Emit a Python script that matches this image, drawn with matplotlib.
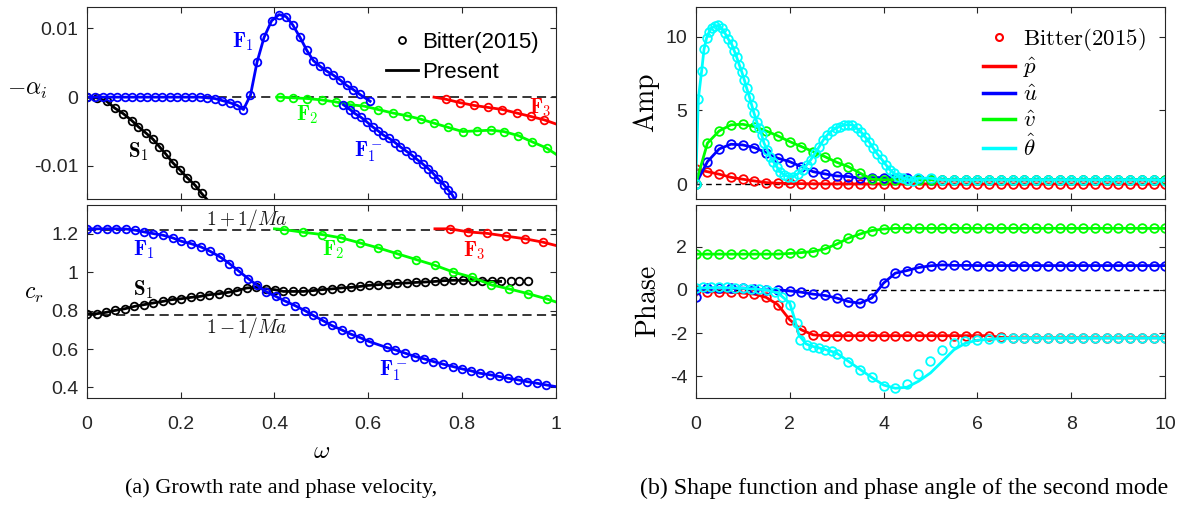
import numpy as np
import matplotlib
matplotlib.use("Agg")
import matplotlib.pyplot as plt
from matplotlib.lines import Line2D

plt.rcParams['font.family'] = 'Liberation Sans'
plt.rcParams['mathtext.fontset'] = 'cm'
plt.rcParams['axes.unicode_minus'] = False

MA = 4.5  # Mach number, dashed lines 1 +/- 1/Ma

# ---------------- (a) top: -alpha_i vs omega ----------------
f1_w = [0.0, 0.0177, 0.0341, 0.0497, 0.0653, 0.0817, 0.0973, 0.1136, 0.1292, 0.1455,
        0.161, 0.1775, 0.193, 0.2095, 0.225, 0.2414, 0.257, 0.273, 0.289, 0.305,
        0.321, 0.334, 0.349, 0.363, 0.378, 0.394, 0.410, 0.425, 0.439, 0.4545,
        0.469, 0.483, 0.497, 0.511, 0.5255, 0.540, 0.554, 0.568, 0.582, 0.604]
f1_ai = [0.0, 0.0, 0.0, 0.0, 0.0, 0.0, 0.0, 0.0, 0.0, 0.0,
         0.0, 0.0, 0.0, 0.0, 0.0, 0.0, -0.0001, -0.0002, -0.0005, -0.0008,
         -0.0012, -0.0018, 0.0003, 0.0051, 0.0087, 0.0111, 0.0120, 0.0117, 0.0105, 0.0087,
         0.0068, 0.0053, 0.0045, 0.0038, 0.0032, 0.0025, 0.0017, 0.0011, 0.0004, -0.0006]

f1m_w = [0.547, 0.561, 0.572, 0.584, 0.597, 0.609, 0.621, 0.632, 0.645, 0.657, 0.668,
         0.680, 0.6925, 0.703, 0.716, 0.728, 0.7385, 0.749, 0.761, 0.7705, 0.779]
f1m_ai = [-0.0011, -0.0018, -0.0024, -0.0029, -0.0036, -0.0043, -0.0049, -0.0055, -0.0060,
          -0.0066, -0.0072, -0.0078, -0.0084, -0.0090, -0.0097, -0.0104, -0.0111, -0.0119,
          -0.0127, -0.0135, -0.0142]
f1m_line_w = f1m_w + [0.787]
f1m_line_ai = f1m_ai + [-0.0152]

s1_w = [0.0, 0.021, 0.0426, 0.060, 0.078, 0.096, 0.110, 0.126, 0.141, 0.155, 0.169,
        0.183, 0.199, 0.214, 0.231, 0.245]
s1_ai = [0.0, -0.0001, -0.0006, -0.0016, -0.0024, -0.0034, -0.0043, -0.0052, -0.0061,
         -0.0072, -0.0083, -0.0095, -0.0106, -0.0117, -0.0128, -0.0140]
s1_line_w = s1_w + [0.262]
s1_line_ai = s1_ai + [-0.0153]

f2_w = [0.412, 0.440, 0.470, 0.5007, 0.531, 0.561, 0.591, 0.621, 0.652, 0.682, 0.712,
        0.741, 0.7705, 0.801, 0.831, 0.861, 0.889, 0.920, 0.9495, 0.980]
f2_ai = [0.0, -0.0001, -0.0002, -0.0004, -0.0007, -0.0011, -0.0013, -0.0018, -0.0023,
         -0.0027, -0.0032, -0.0038, -0.0044, -0.0050, -0.0049, -0.0048, -0.0050, -0.0056,
         -0.0065, -0.0074]
f2_line_w = [0.405] + f2_w + [1.0]
f2_line_ai = [0.0] + f2_ai + [-0.0083]

f3_w = [0.765, 0.7955, 0.825, 0.856, 0.886, 0.916, 0.946, 0.975]
f3_ai = [-0.0003, -0.0008, -0.0012, -0.0015, -0.0018, -0.0023, -0.0028, -0.0033]
f3_line_w = [0.740] + f3_w + [1.0]
f3_line_ai = [0.0] + f3_ai + [-0.0039]

# ---------------- (a) bottom: c_r vs omega ----------------
f1_cw = [0.0, 0.0226, 0.043, 0.063, 0.0837, 0.103, 0.122, 0.142, 0.162, 0.183,
         0.202, 0.222, 0.243, 0.263, 0.284, 0.304, 0.323, 0.344, 0.363, 0.383,
         0.403, 0.4225, 0.444, 0.465, 0.483, 0.504, 0.522, 0.543, 0.5625, 0.582,
         0.602, 0.639, 0.657, 0.678, 0.6995, 0.719, 0.7385, 0.760, 0.780, 0.799,
         0.818, 0.838, 0.859, 0.879, 0.898, 0.920, 0.939, 0.959, 0.979]
f1_cr = [1.226, 1.226, 1.226, 1.226, 1.225, 1.219, 1.210, 1.201, 1.193, 1.179,
         1.161, 1.149, 1.132, 1.109, 1.080, 1.045, 1.008, 0.967, 0.932, 0.897,
         0.874, 0.850, 0.826, 0.800, 0.775, 0.747, 0.723, 0.700, 0.678, 0.660,
         0.639, 0.608, 0.596, 0.579, 0.561, 0.549, 0.535, 0.521, 0.509, 0.497,
         0.487, 0.474, 0.466, 0.457, 0.448, 0.439, 0.430, 0.422, 0.413]
f1_line_cw = f1_cw + [1.0]
f1_line_cr = f1_cr + [0.404]

s1_cw = [0.0, 0.0213, 0.0412, 0.0605, 0.0816, 0.1015, 0.122, 0.142, 0.162, 0.181,
         0.202, 0.222, 0.241, 0.2613, 0.282, 0.301, 0.321, 0.341, 0.361, 0.381,
         0.401, 0.419, 0.440, 0.4616, 0.4815, 0.5007, 0.522, 0.542, 0.5625, 0.582,
         0.602, 0.621, 0.643, 0.662, 0.682, 0.702, 0.721, 0.742, 0.761, 0.781,
         0.801, 0.8225, 0.842, 0.863, 0.882, 0.9035, 0.922, 0.941]
s1_cr = [0.784, 0.784, 0.791, 0.801, 0.810, 0.822, 0.831, 0.840, 0.848, 0.857,
         0.862, 0.869, 0.874, 0.883, 0.888, 0.895, 0.904, 0.918, 0.921, 0.914,
         0.909, 0.900, 0.900, 0.900, 0.904, 0.909, 0.913, 0.918, 0.921, 0.926,
         0.932, 0.935, 0.939, 0.942, 0.944, 0.947, 0.949, 0.952, 0.956, 0.958,
         0.958, 0.956, 0.956, 0.952, 0.952, 0.952, 0.952, 0.952]
S1_LINE_N = 45  # present result stops near omega = 0.88

f2_cw = [0.4206, 0.4616, 0.502, 0.542, 0.582, 0.621, 0.662, 0.702, 0.742, 0.781,
         0.822, 0.861, 0.9005, 0.941, 0.980]
f2_cr = [1.222, 1.208, 1.196, 1.179, 1.153, 1.127, 1.096, 1.066, 1.036, 1.001,
         0.973, 0.935, 0.913, 0.888, 0.861]
f2_line_cw = [0.400] + f2_cw + [1.0]
f2_line_cr = [1.226] + f2_cr + [0.845]

f3_cw = [0.774, 0.813, 0.854, 0.8935, 0.934, 0.973]
f3_cr = [1.226, 1.210, 1.202, 1.188, 1.174, 1.156]
f3_line_cw = [0.742] + f3_cw + [1.0]
f3_line_cr = [1.226] + f3_cr + [1.139]

# ---------------- (b) shape functions vs y ----------------
yg = np.linspace(0, 10, 41)  # Bitter sampling grid

p_amp = [1.00, 0.85, 0.68, 0.47, 0.34, 0.22, 0.11, 0.07, 0.05, 0.04,
         0.03, 0.03, 0.02, 0.02, 0.02, 0.02, 0.02, 0.02, 0.02, 0.02,
         0.02, 0.02, 0.02, 0.02, 0.02, 0.02, 0.02, 0.02, 0.02, 0.02,
         0.02, 0.02, 0.02, 0.02, 0.02, 0.02, 0.02, 0.02, 0.02, 0.02, 0.02]
u_amp = [0.00, 1.53, 2.39, 2.71, 2.66, 2.48, 2.14, 1.76, 1.53, 1.19,
         0.85, 0.70, 0.56, 0.52, 0.41, 0.45, 0.45, 0.45, 0.40, 0.35,
         0.32, 0.30, 0.30, 0.30, 0.30, 0.30, 0.30, 0.30, 0.30, 0.30,
         0.30, 0.30, 0.30, 0.30, 0.30, 0.30, 0.30, 0.30, 0.30, 0.30, 0.30]
v_amp = [0.00, 2.78, 3.61, 4.02, 4.06, 3.90, 3.61, 3.27, 2.89, 2.55,
         2.21, 1.87, 1.49, 1.19, 0.75, 0.34, 0.30, 0.30, 0.30, 0.30,
         0.30, 0.30, 0.30, 0.30, 0.30, 0.30, 0.30, 0.30, 0.30, 0.30,
         0.30, 0.30, 0.30, 0.30, 0.30, 0.30, 0.30, 0.30, 0.30, 0.30, 0.28]

th_amp_y = [0.0, 0.056, 0.127, 0.177, 0.234, 0.29, 0.34, 0.411, 0.482, 0.553,
            0.624, 0.695, 0.766, 0.822, 0.873, 0.929, 0.979, 1.035, 1.086, 1.142,
            1.192, 1.242, 1.299, 1.348, 1.405, 1.455, 1.525, 1.582, 1.653, 1.725,
            1.795, 1.88, 1.972, 2.078, 2.172, 2.278, 2.364, 2.449, 2.54, 2.632,
            2.718, 2.803, 2.896, 2.981, 3.073, 3.158, 3.25, 3.335, 3.428, 3.513,
            3.605, 3.69, 3.782, 3.867, 3.96, 4.052, 4.138, 4.223, 4.314, 4.42,
            4.527, 4.634, 4.74, 5.0, 5.25, 5.5, 5.75, 6.0, 6.25, 6.5, 6.75, 7.0,
            7.25, 7.5, 7.75, 8.0, 8.25, 8.5, 8.75, 9.0, 9.25, 9.5, 9.75, 10.0]
th_amp = [0.0, 5.78, 7.68, 9.14, 9.93, 10.34, 10.57, 10.72, 10.75, 10.57,
          10.23, 9.82, 9.49, 9.03, 8.60, 8.08, 7.63, 7.07, 6.50, 5.94,
          5.37, 4.81, 4.24, 3.79, 3.34, 2.78, 2.32, 1.87, 1.53, 1.19,
          0.85, 0.63, 0.52, 0.52, 0.70, 0.97, 1.31, 1.65, 2.10, 2.55,
          3.00, 3.34, 3.61, 3.79, 3.90, 4.02, 4.02, 4.02, 3.79, 3.56,
          3.22, 2.89, 2.44, 2.05, 1.69, 1.31, 0.97, 0.75, 0.52, 0.41,
          0.29, 0.25, 0.41, 0.41, 0.30, 0.30, 0.30, 0.30, 0.30, 0.30, 0.30, 0.30,
          0.30, 0.30, 0.30, 0.30, 0.30, 0.30, 0.30, 0.30, 0.30, 0.30, 0.30, 0.25]

p_ph = [0.00, -0.08, -0.11, -0.11, -0.15, -0.20, -0.35, -0.69, -1.38, -1.85,
        -2.08, -2.12, -2.12, -2.12, -2.12, -2.12, -2.12, -2.12, -2.12, -2.12,
        -2.12, -2.12, -2.12, -2.12, -2.12, -2.12, -2.20, -2.22, -2.22, -2.22,
        -2.22, -2.22, -2.22, -2.22, -2.22, -2.22, -2.22, -2.22, -2.22, -2.22, -2.22]
u_ph = [-0.31, 0.08, 0.08, 0.08, 0.08, 0.05, 0.00, 0.00, -0.05, -0.11,
        -0.20, -0.26, -0.38, -0.54, -0.62, -0.38, 0.31, 0.77, 0.89, 1.03,
        1.11, 1.15, 1.13, 1.13, 1.12, 1.12, 1.12, 1.12, 1.12, 1.12,
        1.12, 1.12, 1.12, 1.12, 1.12, 1.12, 1.12, 1.12, 1.12, 1.12, 1.12]
v_ph = [1.65, 1.65, 1.65, 1.65, 1.65, 1.65, 1.65, 1.65, 1.68, 1.72,
        1.77, 1.89, 2.11, 2.38, 2.58, 2.74, 2.81, 2.84, 2.84, 2.84,
        2.84, 2.84, 2.84, 2.84, 2.84, 2.84, 2.84, 2.84, 2.84, 2.84,
        2.84, 2.84, 2.84, 2.84, 2.84, 2.84, 2.84, 2.84, 2.84, 2.84, 2.84]
u_ph_line_y = [0.0, 0.04] + list(yg[1:])
u_ph_line = [-0.31, 0.03] + u_ph[1:]
v_ph_line_y = [0.0] + list(yg)
v_ph_line = [1.0] + v_ph

th_ph_y = [0.0, 0.163, 0.326, 0.496, 0.673, 0.837, 1.0, 1.178, 1.348, 1.511,
           1.689, 1.83, 2.008, 2.15, 2.22, 2.364, 2.5, 2.63, 2.75, 2.9,
           3.0, 3.25, 3.5, 3.75, 4.0, 4.24, 4.49, 4.74, 4.99, 5.24,
           5.49, 5.73, 5.98, 6.25, 6.5, 6.75, 7.0, 7.25, 7.5, 7.75,
           8.0, 8.25, 8.5, 8.75, 9.0, 9.25, 9.5, 9.75, 10.0]
th_ph = [0.08, 0.11, 0.11, 0.11, 0.11, 0.08, 0.08, 0.05, 0.05, 0.00,
         -0.08, -0.31, -0.69, -1.54, -2.31, -2.54, -2.66, -2.69, -2.77, -2.84,
         -2.95, -3.35, -3.69, -4.05, -4.44, -4.52, -4.35, -3.90, -3.30, -2.80,
         -2.46, -2.35, -2.31, -2.27, -2.25, -2.24, -2.23, -2.23, -2.23, -2.23,
         -2.23, -2.23, -2.23, -2.23, -2.23, -2.23, -2.23, -2.23, -2.23]
th_ph_line_y = [0.0, 0.5, 1.0, 1.5, 1.75, 2.0, 2.1, 2.2, 2.35, 2.5, 2.75, 3.0,
                3.25, 3.5, 3.75, 4.0, 4.25, 4.5, 4.75, 5.0, 5.25, 5.5, 5.75, 6.0,
                6.5, 7.0, 10.0]
th_ph_line = [0.08, 0.10, 0.07, 0.0, -0.15, -0.60, -1.30, -2.10, -2.50, -2.62,
              -2.75, -2.92, -3.30, -3.68, -4.05, -4.40, -4.55, -4.50, -4.22, -3.84,
              -3.31, -2.77, -2.46, -2.33, -2.25, -2.23, -2.23]

# ---------------- figure ----------------
fig = plt.figure(figsize=(11.84, 5.08), dpi=100)
W, H = 1184, 508


def add_ax(x0, y0, x1, y1):
    return fig.add_axes([x0 / W, 1 - y1 / H, (x1 - x0) / W, (y1 - y0) / H])


ax1 = add_ax(86.7, 7, 556, 199)
ax2 = add_ax(86.7, 205, 556, 398)
ax3 = add_ax(695.7, 7, 1165.3, 199)
ax4 = add_ax(695.7, 205, 1165.3, 398)

LW = 2.0
MS_L, MEW_L = 5.5, 1.3
MS_R, MEW_R = 6.2, 1.3


def curve(ax, xm, ym, c, xl=None, yl=None, ms=MS_L, mew=MEW_L, line=True):
    if line:
        ax.plot(xm if xl is None else xl, ym if yl is None else yl, '-', color=c, lw=LW)
    ax.plot(xm, ym, 'o', mfc='none', mec=c, ms=ms, mew=mew, ls='none')


for ax in (ax1, ax2, ax3, ax4):
    ax.tick_params(direction='in', top=True, right=True, length=4, width=0.8,
                   labelsize=14, colors='#262626', pad=6)
    ax.tick_params(axis='x', pad=13)
    for s in ax.spines.values():
        s.set_color('#262626')
        s.set_linewidth(0.8)

# top left
ax1.axhline(0, color='k', ls='--', lw=1.1, dashes=(6, 3.5), zorder=1)
curve(ax1, s1_w, s1_ai, 'k', s1_line_w, s1_line_ai)
curve(ax1, f2_w, f2_ai, '#00ff00', f2_line_w, f2_line_ai)
curve(ax1, f3_w, f3_ai, 'r', f3_line_w, f3_line_ai)
curve(ax1, f1_w, f1_ai, 'b')
curve(ax1, f1m_w, f1m_ai, 'b', f1m_line_w, f1m_line_ai)
ax1.set_xlim(0, 1)
ax1.set_ylim(-0.0148, 0.0131)
ax1.set_xticks([0, 0.2, 0.4, 0.6, 0.8, 1.0])
ax1.set_xticklabels([])
ax1.set_yticks([-0.01, 0, 0.01])
ax1.set_yticklabels(['-0.01', '0', '0.01'])
ax1.set_ylabel(r'$-\alpha_i$', fontsize=17, rotation=0, labelpad=0)
ax1.yaxis.set_label_coords(-0.126, 0.51)

lab = dict(fontsize=15, ha='center', va='center')
ax1.text(0.333, 0.0080, r'$\mathbf{F}_1$', color='b', **lab)
ax1.text(0.110, -0.0079, r'$\mathbf{S}_1$', color='k', **lab)
ax1.text(0.471, -0.0026, r'$\mathbf{F}_2$', color='#00ff00', **lab)
ax1.text(0.966, -0.0015, r'$\mathbf{F}_3$', color='r', **lab)
ax1.text(0.600, -0.0080, r'$\mathbf{F}_1^-$', color='b', **lab)

h1 = [Line2D([], [], marker='o', ls='none', mfc='none', mec='k', ms=5, mew=1.3),
      Line2D([], [], color='k', lw=2)]
ax1.legend(h1, ['Bitter(2015)', 'Present'], loc='upper right', frameon=False,
           fontsize=16, bbox_to_anchor=(0.963, 0.87), borderaxespad=0, borderpad=0,
           handlelength=1.4, handletextpad=0.2, labelspacing=0.4)

# bottom left
ax2.axhline(1 + 1 / MA, color='k', ls='--', lw=1.1, dashes=(6, 3.5), zorder=1)
ax2.axhline(1 - 1 / MA, color='k', ls='--', lw=1.1, dashes=(6, 3.5), zorder=1)
ax2.plot(s1_cw[:S1_LINE_N], s1_cr[:S1_LINE_N], '-', color='k', lw=LW)
curve(ax2, s1_cw, s1_cr, 'k', line=False)
curve(ax2, f2_cw, f2_cr, '#00ff00', f2_line_cw, f2_line_cr)
curve(ax2, f3_cw, f3_cr, 'r', f3_line_cw, f3_line_cr)
curve(ax2, f1_cw, f1_cr, 'b', f1_line_cw, f1_line_cr)
ax2.set_xlim(0, 1)
ax2.set_ylim(0.345, 1.35)
ax2.set_xticks([0, 0.2, 0.4, 0.6, 0.8, 1.0])
ax2.set_xticklabels(['0', '0.2', '0.4', '0.6', '0.8', '1'])
ax2.set_yticks([0.4, 0.6, 0.8, 1.0, 1.2])
ax2.set_yticklabels(['0.4', '0.6', '0.8', '1', '1.2'])
ax2.set_ylabel(r'$c_r$', fontsize=17, rotation=0, labelpad=0)
ax2.yaxis.set_label_coords(-0.113, 0.48)
ax2.set_xlabel(r'$\omega$', fontsize=18, labelpad=4)

ax2.text(0.342, 1.274, r'$1+1/Ma$', fontsize=14, ha='center', va='center', color='#1a1a1a')
ax2.text(0.342, 0.711, r'$1-1/Ma$', fontsize=14, ha='center', va='center', color='#1a1a1a')
ax2.text(0.122, 1.115, r'$\mathbf{F}_1$', color='b', **lab)
ax2.text(0.120, 0.909, r'$\mathbf{S}_1$', color='k', **lab)
ax2.text(0.525, 1.118, r'$\mathbf{F}_2$', color='#00ff00', **lab)
ax2.text(0.826, 1.113, r'$\mathbf{F}_3$', color='r', **lab)
ax2.text(0.653, 0.486, r'$\mathbf{F}_1^-$', color='b', **lab)

# top right
cols = {'p': 'r', 'u': 'b', 'v': '#00ff00', 't': 'cyan'}
ax3.axhline(0, color='k', ls='--', lw=1.0, dashes=(4, 3), zorder=1)
curve(ax3, yg, p_amp, cols['p'], ms=MS_R, mew=MEW_R)
curve(ax3, yg, u_amp, cols['u'], ms=MS_R, mew=MEW_R)
curve(ax3, yg, v_amp, cols['v'], ms=MS_R, mew=MEW_R)
curve(ax3, th_amp_y, th_amp, cols['t'], ms=MS_R, mew=MEW_R)
ax3.set_xlim(0, 10)
ax3.set_ylim(-1, 12)
ax3.set_xticks([0, 2, 4, 6, 8, 10])
ax3.set_xticklabels([])
ax3.set_yticks([0, 5, 10])
ax3.set_yticklabels(['0', '5', '10'])
ax3.set_ylabel(r'$\mathrm{Amp}$', fontsize=20, labelpad=4)
ax3.yaxis.set_label_coords(-0.072, 0.5)

h3 = [Line2D([], [], marker='o', ls='none', mfc='none', mec='r', ms=5, mew=1.5),
      Line2D([], [], color='r', lw=2.5), Line2D([], [], color='b', lw=2.5),
      Line2D([], [], color='#00ff00', lw=2.5), Line2D([], [], color='cyan', lw=2.5)]
ax3.legend(h3, [r'$\mathrm{Bitter(2015)}$', r'$\hat{p}$', r'$\hat{u}$', r'$\hat{v}$',
                r'$\hat{\theta}$'], loc='upper right', frameon=False, fontsize=16.5,
           bbox_to_anchor=(0.958, 0.90), borderaxespad=0, borderpad=0,
           handlelength=1.4, handletextpad=0.35, labelspacing=0.12)

# bottom right
ax4.axhline(0, color='k', ls='--', lw=1.0, dashes=(4, 3), zorder=1)
curve(ax4, yg, p_ph, cols['p'], ms=MS_R, mew=MEW_R)
curve(ax4, yg, u_ph, cols['u'], u_ph_line_y, u_ph_line, ms=MS_R, mew=MEW_R)
curve(ax4, yg, v_ph, cols['v'], v_ph_line_y, v_ph_line, ms=MS_R, mew=MEW_R)
curve(ax4, th_ph_y, th_ph, cols['t'], th_ph_line_y, th_ph_line, ms=MS_R, mew=MEW_R)
ax4.set_xlim(0, 10)
ax4.set_ylim(-5, 3.92)
ax4.set_xticks([0, 2, 4, 6, 8, 10])
ax4.set_xticklabels(['0', '2', '4', '6', '8', '10'])
ax4.set_yticks([-4, -2, 0, 2])
ax4.set_yticklabels(['-4', '-2', '0', '2'])
ax4.set_ylabel(r'$\mathrm{Phase}$', fontsize=20, labelpad=4)
ax4.yaxis.set_label_coords(-0.072, 0.5)

# captions
fig.text(125 / W, 1 - 488 / H, '(a) Growth rate and phase velocity,',
         family='Liberation Serif', fontsize=16, ha='left', va='center')
fig.text(640 / W, 1 - 488 / H, '(b) Shape function and phase angle of the second mode',
         family='Liberation Serif', fontsize=17.2, ha='left', va='center')

fig.savefig('out.png', dpi=100)
